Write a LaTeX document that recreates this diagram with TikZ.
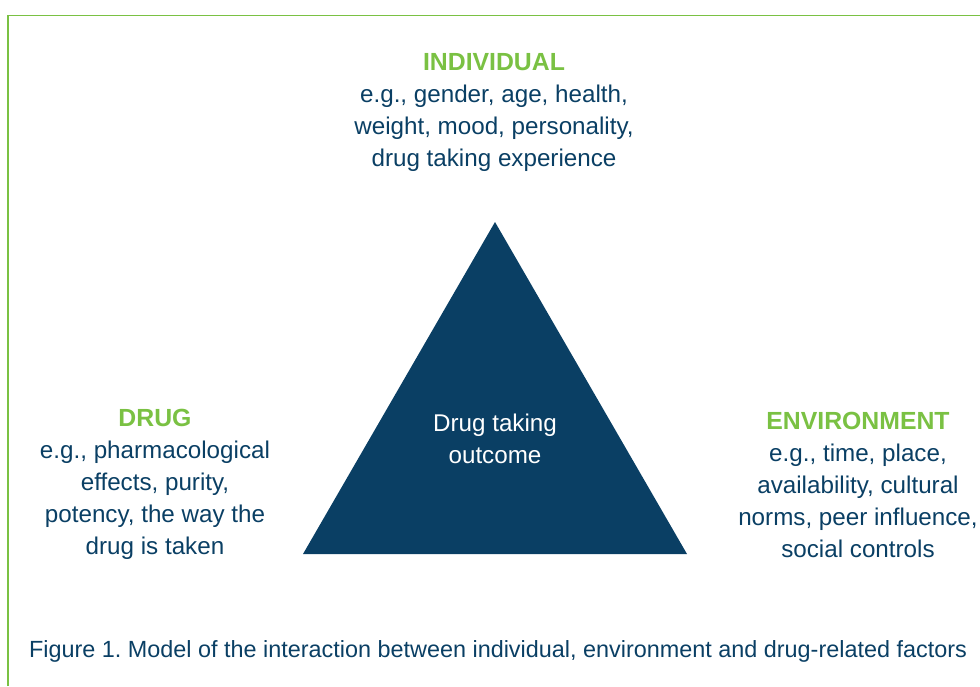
\documentclass[tikz,border=0pt]{standalone}
\usepackage{fontspec}
\setmainfont{Liberation Sans}
\definecolor{navy}{HTML}{0A3F64}
\definecolor{leaf}{HTML}{7AC143}
\frenchspacing
\tikzset{
  factor/.style={align=center, text=navy, font=\fontsize{24.2}{32}\selectfont, inner sep=0pt}
}
\newcommand\headline[1]{{\color{leaf}\fontsize{24.8}{32}\selectfont\bfseries #1}}
\begin{document}
\begin{tikzpicture}[x=1pt, y=-1pt]
\useasboundingbox (0,0) rectangle (980,686);
\draw[leaf, line width=1.8pt] (8,686) -- (8,15.5) -- (980,15.5);
\coordinate (apex) at (495,222);
\coordinate (baseL) at (303,554);
\coordinate (baseR) at (687,554);
\fill[navy] (apex) -- (baseL) -- (baseR) -- cycle;
\node[factor, text=white] (outcome) at (495,439) {Drug taking\\outcome};
\node[factor] (indiv) at (494,112) {\headline{INDIVIDUAL}\\e.g., gender, age, health,\\weight, mood, personality,\\drug taking experience};
\node[factor] (drug) at (155,484) {\headline{DRUG}\\e.g., pharmacological\\effects, purity,\\potency, the way the\\drug is taken};
\node[factor] (env) at (858,485) {\headline{ENVIRONMENT}\\e.g., time, place,\\availability, cultural\\norms, peer influence,\\social controls};
\node[factor, font=\fontsize{23.4}{28}\selectfont] (caption) at (498,651) {Figure 1. Model of the interaction between individual, environment and drug-related factors};
\end{tikzpicture}
\end{document}
